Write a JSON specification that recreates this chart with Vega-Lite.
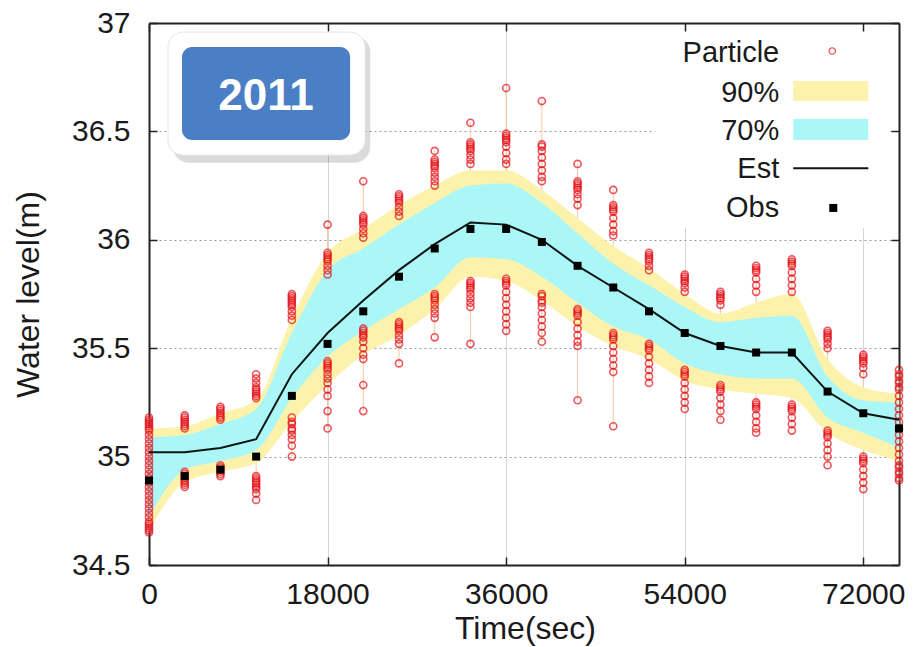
{
  "$schema": "https://vega.github.io/schema/vega-lite/v6.json",
  "width": 750,
  "height": 542,
  "autosize": {"type": "none"},
  "padding": {"left": 149, "top": 23, "right": 16, "bottom": 82},
  "background": "white",
  "config": {
    "view": {"stroke": null},
    "font": "Liberation Sans",
    "axis": {
      "domainColor": "#222",
      "domainWidth": 2,
      "tickColor": "#222",
      "tickWidth": 1.5,
      "tickSize": -8,
      "labelColor": "#1a1a1a",
      "labelFont": "Liberation Sans",
      "labelFontSize": 30,
      "titleFont": "Liberation Sans",
      "titleFontSize": 32,
      "titleFontWeight": "normal",
      "titleColor": "#1a1a1a"
    }
  },
  "datasets": {
    "one": [{}],
    "series": [
      {"t": 0, "est": 35.02, "obs": 34.89, "lo90": 34.66, "lo70": 34.72, "hi70": 35.09, "hi90": 35.13},
      {"t": 3600, "est": 35.02, "obs": 34.91, "lo90": 34.88, "lo70": 34.94, "hi70": 35.10, "hi90": 35.14},
      {"t": 7200, "est": 35.04, "obs": 34.94, "lo90": 34.93, "lo70": 34.98, "hi70": 35.15, "hi90": 35.20},
      {"t": 10800, "est": 35.08, "obs": 35.00, "lo90": 34.97, "lo70": 35.03, "hi70": 35.22, "hi90": 35.26},
      {"t": 14400, "est": 35.38, "obs": 35.28, "lo90": 35.16, "lo70": 35.27, "hi70": 35.57, "hi90": 35.64},
      {"t": 18000, "est": 35.57, "obs": 35.52, "lo90": 35.33, "lo70": 35.46, "hi70": 35.86, "hi90": 35.94},
      {"t": 21600, "est": 35.72, "obs": 35.67, "lo90": 35.47, "lo70": 35.58, "hi70": 35.96, "hi90": 36.05},
      {"t": 25200, "est": 35.86, "obs": 35.83, "lo90": 35.56, "lo70": 35.68, "hi70": 36.07, "hi90": 36.16},
      {"t": 28800, "est": 35.98, "obs": 35.96, "lo90": 35.68, "lo70": 35.78, "hi70": 36.17, "hi90": 36.25},
      {"t": 32400, "est": 36.08, "obs": 36.05, "lo90": 35.83, "lo70": 35.92, "hi70": 36.25, "hi90": 36.32},
      {"t": 36000, "est": 36.07, "obs": 36.05, "lo90": 35.81, "lo70": 35.91, "hi70": 36.26, "hi90": 36.32},
      {"t": 39600, "est": 36.00, "obs": 35.99, "lo90": 35.72, "lo70": 35.83, "hi70": 36.17, "hi90": 36.23},
      {"t": 43200, "est": 35.88, "obs": 35.88, "lo90": 35.60, "lo70": 35.71, "hi70": 36.03, "hi90": 36.10},
      {"t": 46800, "est": 35.78, "obs": 35.78, "lo90": 35.51, "lo70": 35.60, "hi70": 35.89, "hi90": 35.97},
      {"t": 50400, "est": 35.68, "obs": 35.67, "lo90": 35.45, "lo70": 35.54, "hi70": 35.79, "hi90": 35.87},
      {"t": 54000, "est": 35.57, "obs": 35.57, "lo90": 35.35, "lo70": 35.43, "hi70": 35.69, "hi90": 35.75},
      {"t": 57600, "est": 35.51, "obs": 35.51, "lo90": 35.31, "lo70": 35.38, "hi70": 35.62, "hi90": 35.66},
      {"t": 61200, "est": 35.48, "obs": 35.48, "lo90": 35.29, "lo70": 35.36, "hi70": 35.64, "hi90": 35.71},
      {"t": 64800, "est": 35.48, "obs": 35.48, "lo90": 35.27, "lo70": 35.36, "hi70": 35.65, "hi90": 35.75},
      {"t": 68400, "est": 35.30, "obs": 35.30, "lo90": 35.11, "lo70": 35.18, "hi70": 35.37, "hi90": 35.45},
      {"t": 72000, "est": 35.20, "obs": 35.20, "lo90": 35.03, "lo70": 35.11, "hi70": 35.26, "hi90": 35.32},
      {"t": 75600, "est": 35.17, "obs": 35.13, "lo90": 34.98, "lo70": 35.04, "hi70": 35.25, "hi90": 35.29}
    ],
    "particles": [
      {"t":0,"v":35.18},{"t":0,"v":35.17},{"t":0,"v":35.16},{"t":0,"v":35.15},{"t":0,"v":35.14},{"t":0,"v":35.13},{"t":0,"v":35.12},{"t":0,"v":35.10},{"t":0,"v":35.08},{"t":0,"v":35.06},{"t":0,"v":35.04},{"t":0,"v":35.02},{"t":0,"v":35.00},{"t":0,"v":34.98},{"t":0,"v":34.96},{"t":0,"v":34.94},{"t":0,"v":34.92},{"t":0,"v":34.90},{"t":0,"v":34.88},{"t":0,"v":34.86},{"t":0,"v":34.84},{"t":0,"v":34.82},{"t":0,"v":34.80},{"t":0,"v":34.78},{"t":0,"v":34.76},{"t":0,"v":34.74},{"t":0,"v":34.72},{"t":0,"v":34.70},{"t":0,"v":34.69},{"t":0,"v":34.68},{"t":0,"v":34.67},{"t":0,"v":34.66},{"t":0,"v":34.65},
      {"t":3600,"v":35.19},{"t":3600,"v":35.18},{"t":3600,"v":35.17},{"t":3600,"v":35.16},{"t":3600,"v":35.15},{"t":3600,"v":35.14},{"t":3600,"v":35.13},{"t":3600,"v":34.93},{"t":3600,"v":34.92},{"t":3600,"v":34.91},{"t":3600,"v":34.90},{"t":3600,"v":34.89},{"t":3600,"v":34.88},{"t":3600,"v":34.87},{"t":3600,"v":34.86},
      {"t":7200,"v":35.23},{"t":7200,"v":35.22},{"t":7200,"v":35.21},{"t":7200,"v":35.20},{"t":7200,"v":35.19},{"t":7200,"v":35.18},{"t":7200,"v":35.17},{"t":7200,"v":34.96},{"t":7200,"v":34.95},{"t":7200,"v":34.94},{"t":7200,"v":34.93},{"t":7200,"v":34.92},{"t":7200,"v":34.91},
      {"t":10800,"v":35.38},{"t":10800,"v":35.36},{"t":10800,"v":35.34},{"t":10800,"v":35.32},{"t":10800,"v":35.31},{"t":10800,"v":35.30},{"t":10800,"v":35.29},{"t":10800,"v":35.28},{"t":10800,"v":35.27},{"t":10800,"v":34.91},{"t":10800,"v":34.90},{"t":10800,"v":34.89},{"t":10800,"v":34.88},{"t":10800,"v":34.87},{"t":10800,"v":34.86},{"t":10800,"v":34.85},{"t":10800,"v":34.83},{"t":10800,"v":34.80},
      {"t":14400,"v":35.75},{"t":14400,"v":35.74},{"t":14400,"v":35.73},{"t":14400,"v":35.72},{"t":14400,"v":35.71},{"t":14400,"v":35.70},{"t":14400,"v":35.69},{"t":14400,"v":35.67},{"t":14400,"v":35.65},{"t":14400,"v":35.63},{"t":14400,"v":35.18},{"t":14400,"v":35.16},{"t":14400,"v":35.15},{"t":14400,"v":35.13},{"t":14400,"v":35.12},{"t":14400,"v":35.10},{"t":14400,"v":35.08},{"t":14400,"v":35.05},{"t":14400,"v":35.00},
      {"t":18000,"v":36.07},{"t":18000,"v":35.94},{"t":18000,"v":35.93},{"t":18000,"v":35.92},{"t":18000,"v":35.91},{"t":18000,"v":35.90},{"t":18000,"v":35.88},{"t":18000,"v":35.86},{"t":18000,"v":35.84},{"t":18000,"v":35.44},{"t":18000,"v":35.43},{"t":18000,"v":35.42},{"t":18000,"v":35.41},{"t":18000,"v":35.40},{"t":18000,"v":35.38},{"t":18000,"v":35.36},{"t":18000,"v":35.34},{"t":18000,"v":35.31},{"t":18000,"v":35.28},{"t":18000,"v":35.21},{"t":18000,"v":35.13},
      {"t":21600,"v":36.27},{"t":21600,"v":36.11},{"t":21600,"v":36.10},{"t":21600,"v":36.09},{"t":21600,"v":36.08},{"t":21600,"v":36.07},{"t":21600,"v":36.05},{"t":21600,"v":36.03},{"t":21600,"v":36.01},{"t":21600,"v":35.59},{"t":21600,"v":35.58},{"t":21600,"v":35.57},{"t":21600,"v":35.56},{"t":21600,"v":35.55},{"t":21600,"v":35.53},{"t":21600,"v":35.50},{"t":21600,"v":35.47},{"t":21600,"v":35.45},{"t":21600,"v":35.33},{"t":21600,"v":35.21},
      {"t":25200,"v":36.21},{"t":25200,"v":36.20},{"t":25200,"v":36.19},{"t":25200,"v":36.18},{"t":25200,"v":36.17},{"t":25200,"v":36.15},{"t":25200,"v":36.13},{"t":25200,"v":36.11},{"t":25200,"v":35.62},{"t":25200,"v":35.61},{"t":25200,"v":35.60},{"t":25200,"v":35.59},{"t":25200,"v":35.58},{"t":25200,"v":35.56},{"t":25200,"v":35.54},{"t":25200,"v":35.52},{"t":25200,"v":35.43},
      {"t":28800,"v":36.41},{"t":28800,"v":36.37},{"t":28800,"v":36.36},{"t":28800,"v":36.35},{"t":28800,"v":36.34},{"t":28800,"v":36.33},{"t":28800,"v":36.31},{"t":28800,"v":36.29},{"t":28800,"v":36.27},{"t":28800,"v":36.25},{"t":28800,"v":35.75},{"t":28800,"v":35.74},{"t":28800,"v":35.73},{"t":28800,"v":35.72},{"t":28800,"v":35.70},{"t":28800,"v":35.68},{"t":28800,"v":35.66},{"t":28800,"v":35.64},{"t":28800,"v":35.55},
      {"t":32400,"v":36.54},{"t":32400,"v":36.45},{"t":32400,"v":36.44},{"t":32400,"v":36.43},{"t":32400,"v":36.42},{"t":32400,"v":36.41},{"t":32400,"v":36.39},{"t":32400,"v":36.37},{"t":32400,"v":36.35},{"t":32400,"v":35.81},{"t":32400,"v":35.80},{"t":32400,"v":35.79},{"t":32400,"v":35.78},{"t":32400,"v":35.77},{"t":32400,"v":35.75},{"t":32400,"v":35.73},{"t":32400,"v":35.71},{"t":32400,"v":35.69},{"t":32400,"v":35.52},
      {"t":36000,"v":36.70},{"t":36000,"v":36.49},{"t":36000,"v":36.48},{"t":36000,"v":36.47},{"t":36000,"v":36.46},{"t":36000,"v":36.45},{"t":36000,"v":36.43},{"t":36000,"v":36.40},{"t":36000,"v":36.37},{"t":36000,"v":36.35},{"t":36000,"v":35.82},{"t":36000,"v":35.81},{"t":36000,"v":35.80},{"t":36000,"v":35.79},{"t":36000,"v":35.76},{"t":36000,"v":35.73},{"t":36000,"v":35.70},{"t":36000,"v":35.67},{"t":36000,"v":35.64},{"t":36000,"v":35.61},{"t":36000,"v":35.58},
      {"t":39600,"v":36.64},{"t":39600,"v":36.44},{"t":39600,"v":36.43},{"t":39600,"v":36.41},{"t":39600,"v":36.38},{"t":39600,"v":36.35},{"t":39600,"v":36.32},{"t":39600,"v":36.29},{"t":39600,"v":36.27},{"t":39600,"v":35.75},{"t":39600,"v":35.74},{"t":39600,"v":35.72},{"t":39600,"v":35.71},{"t":39600,"v":35.69},{"t":39600,"v":35.66},{"t":39600,"v":35.63},{"t":39600,"v":35.60},{"t":39600,"v":35.57},{"t":39600,"v":35.53},
      {"t":43200,"v":36.35},{"t":43200,"v":36.27},{"t":43200,"v":36.26},{"t":43200,"v":36.25},{"t":43200,"v":36.24},{"t":43200,"v":36.23},{"t":43200,"v":36.21},{"t":43200,"v":36.19},{"t":43200,"v":36.16},{"t":43200,"v":35.68},{"t":43200,"v":35.67},{"t":43200,"v":35.66},{"t":43200,"v":35.65},{"t":43200,"v":35.62},{"t":43200,"v":35.59},{"t":43200,"v":35.56},{"t":43200,"v":35.53},{"t":43200,"v":35.51},{"t":43200,"v":35.26},
      {"t":46800,"v":36.23},{"t":46800,"v":36.16},{"t":46800,"v":36.15},{"t":46800,"v":36.14},{"t":46800,"v":36.13},{"t":46800,"v":36.10},{"t":46800,"v":36.07},{"t":46800,"v":36.04},{"t":46800,"v":36.02},{"t":46800,"v":35.57},{"t":46800,"v":35.56},{"t":46800,"v":35.55},{"t":46800,"v":35.54},{"t":46800,"v":35.51},{"t":46800,"v":35.48},{"t":46800,"v":35.45},{"t":46800,"v":35.42},{"t":46800,"v":35.39},{"t":46800,"v":35.14},
      {"t":50400,"v":35.94},{"t":50400,"v":35.93},{"t":50400,"v":35.92},{"t":50400,"v":35.91},{"t":50400,"v":35.90},{"t":50400,"v":35.88},{"t":50400,"v":35.86},{"t":50400,"v":35.52},{"t":50400,"v":35.51},{"t":50400,"v":35.50},{"t":50400,"v":35.49},{"t":50400,"v":35.46},{"t":50400,"v":35.43},{"t":50400,"v":35.40},{"t":50400,"v":35.37},{"t":50400,"v":35.34},
      {"t":54000,"v":35.84},{"t":54000,"v":35.83},{"t":54000,"v":35.82},{"t":54000,"v":35.81},{"t":54000,"v":35.80},{"t":54000,"v":35.78},{"t":54000,"v":35.76},{"t":54000,"v":35.40},{"t":54000,"v":35.39},{"t":54000,"v":35.38},{"t":54000,"v":35.37},{"t":54000,"v":35.34},{"t":54000,"v":35.31},{"t":54000,"v":35.28},{"t":54000,"v":35.25},{"t":54000,"v":35.22},
      {"t":57600,"v":35.76},{"t":57600,"v":35.75},{"t":57600,"v":35.74},{"t":57600,"v":35.73},{"t":57600,"v":35.72},{"t":57600,"v":35.70},{"t":57600,"v":35.33},{"t":57600,"v":35.32},{"t":57600,"v":35.31},{"t":57600,"v":35.30},{"t":57600,"v":35.27},{"t":57600,"v":35.24},{"t":57600,"v":35.21},{"t":57600,"v":35.17},
      {"t":61200,"v":35.88},{"t":61200,"v":35.87},{"t":61200,"v":35.86},{"t":61200,"v":35.85},{"t":61200,"v":35.82},{"t":61200,"v":35.79},{"t":61200,"v":35.76},{"t":61200,"v":35.25},{"t":61200,"v":35.24},{"t":61200,"v":35.23},{"t":61200,"v":35.22},{"t":61200,"v":35.19},{"t":61200,"v":35.16},{"t":61200,"v":35.13},{"t":61200,"v":35.11},
      {"t":64800,"v":35.91},{"t":64800,"v":35.90},{"t":64800,"v":35.89},{"t":64800,"v":35.88},{"t":64800,"v":35.85},{"t":64800,"v":35.82},{"t":64800,"v":35.79},{"t":64800,"v":35.76},{"t":64800,"v":35.24},{"t":64800,"v":35.23},{"t":64800,"v":35.22},{"t":64800,"v":35.21},{"t":64800,"v":35.18},{"t":64800,"v":35.15},{"t":64800,"v":35.12},
      {"t":68400,"v":35.58},{"t":68400,"v":35.57},{"t":68400,"v":35.56},{"t":68400,"v":35.55},{"t":68400,"v":35.54},{"t":68400,"v":35.52},{"t":68400,"v":35.50},{"t":68400,"v":35.12},{"t":68400,"v":35.11},{"t":68400,"v":35.10},{"t":68400,"v":35.09},{"t":68400,"v":35.06},{"t":68400,"v":35.03},{"t":68400,"v":35.00},{"t":68400,"v":34.96},
      {"t":72000,"v":35.47},{"t":72000,"v":35.46},{"t":72000,"v":35.45},{"t":72000,"v":35.44},{"t":72000,"v":35.43},{"t":72000,"v":35.41},{"t":72000,"v":35.38},{"t":72000,"v":35.00},{"t":72000,"v":34.99},{"t":72000,"v":34.98},{"t":72000,"v":34.97},{"t":72000,"v":34.94},{"t":72000,"v":34.91},{"t":72000,"v":34.88},{"t":72000,"v":34.85},
      {"t":75600,"v":35.40},{"t":75600,"v":35.38},{"t":75600,"v":35.37},{"t":75600,"v":35.35},{"t":75600,"v":35.34},{"t":75600,"v":35.32},{"t":75600,"v":35.31},{"t":75600,"v":35.28},{"t":75600,"v":35.25},{"t":75600,"v":35.22},{"t":75600,"v":35.19},{"t":75600,"v":35.16},{"t":75600,"v":35.13},{"t":75600,"v":35.10},{"t":75600,"v":35.07},{"t":75600,"v":35.04},{"t":75600,"v":35.01},{"t":75600,"v":34.98},{"t":75600,"v":34.96},{"t":75600,"v":34.95},{"t":75600,"v":34.93},{"t":75600,"v":34.92},{"t":75600,"v":34.90},{"t":75600,"v":34.89}
    ]
  },
  "layer": [
    {
      "data": {"name": "particles"},
      "mark": {"type": "rule", "color": "#f5c9a0", "strokeWidth": 1},
      "encoding": {
        "x": {"field": "t", "type": "quantitative", "scale": {"domain": [0, 75600], "nice": false}, "axis": null},
        "y": {"aggregate": "min", "field": "v", "type": "quantitative", "scale": {"domain": [34.5, 37], "nice": false, "zero": false}, "axis": null},
        "y2": {"aggregate": "max", "field": "v"}
      }
    },
    {
      "data": {"name": "series"},
      "mark": {"type": "area", "color": "#fcf2ab", "interpolate": "monotone", "opacity": 1},
      "encoding": {
        "x": {"field": "t", "type": "quantitative", "axis": null},
        "y": {"field": "lo90", "type": "quantitative", "axis": null},
        "y2": {"field": "hi90"}
      }
    },
    {
      "data": {"name": "series"},
      "mark": {"type": "area", "color": "#abf6f7", "interpolate": "monotone", "opacity": 1},
      "encoding": {
        "x": {"field": "t", "type": "quantitative", "axis": null},
        "y": {"field": "lo70", "type": "quantitative", "axis": null},
        "y2": {"field": "hi70"}
      }
    },
    {
      "data": {"name": "particles"},
      "mark": {"type": "point", "shape": "circle", "filled": false, "color": "#e60f18", "size": 50, "strokeWidth": 1.6, "clip": false},
      "encoding": {
        "x": {
          "field": "t", "type": "quantitative",
          "axis": {
            "orient": "bottom", "values": [0, 18000, 36000, 54000, 72000], "format": "d",
            "grid": true, "gridColor": "#d6d6d6", "gridWidth": 1,
            "labelPadding": 22, "labelFlush": false, "labelOverlap": false,
            "title": "Time(sec)", "titleX": 376, "titleY": 73, "titleBaseline": "alphabetic", "titleAnchor": "middle"
          }
        },
        "y": {
          "field": "v", "type": "quantitative",
          "axis": {
            "orient": "left", "values": [34.5, 35, 35.5, 36, 36.5, 37], "labelExpr": "'' + datum.value",
            "grid": true, "gridColor": "#9a9a9a", "gridWidth": 1, "gridDash": [2, 3],
            "labelPadding": 27, "labelFlush": false, "labelOverlap": false,
            "title": "Water level(m)", "titleX": -111, "titleY": 271, "titleBaseline": "alphabetic", "titleAngle": -90, "titleAnchor": "middle"
          }
        }
      }
    },
    {
      "data": {"name": "series"},
      "mark": {"type": "line", "color": "#0d1414", "strokeWidth": 2},
      "encoding": {
        "x": {"field": "t", "type": "quantitative", "axis": null},
        "y": {"field": "est", "type": "quantitative", "axis": null}
      }
    },
    {
      "data": {"name": "series"},
      "mark": {"type": "point", "shape": "square", "filled": true, "color": "#000000", "size": 64, "opacity": 1, "clip": false},
      "encoding": {
        "x": {
          "field": "t", "type": "quantitative",
          "axis": {"orient": "top", "values": [0, 18000, 36000, 54000, 72000], "labels": false, "grid": false, "title": null}
        },
        "y": {
          "field": "obs", "type": "quantitative",
          "axis": {"orient": "right", "values": [34.5, 35, 35.5, 36, 36.5, 37], "labels": false, "grid": false, "title": null}
        }
      }
    },
    {
      "data": {"name": "one"},
      "mark": {"type": "rect", "color": "#000000", "opacity": 0.14, "cornerRadius": 16},
      "encoding": {
        "x": {"datum": 2400, "type": "quantitative", "axis": null},
        "x2": {"datum": 22300},
        "y": {"datum": 36.94, "type": "quantitative", "axis": null},
        "y2": {"datum": 36.355}
      }
    },
    {
      "data": {"name": "one"},
      "mark": {"type": "rect", "color": "#ffffff", "opacity": 1, "cornerRadius": 15, "stroke": "#e6e6e6", "strokeWidth": 1},
      "encoding": {
        "x": {"datum": 1916, "type": "quantitative", "axis": null},
        "x2": {"datum": 21782},
        "y": {"datum": 36.958, "type": "quantitative", "axis": null},
        "y2": {"datum": 36.391}
      }
    },
    {
      "data": {"name": "one"},
      "mark": {"type": "rect", "color": "#4a7ec5", "opacity": 1, "cornerRadius": 10},
      "encoding": {
        "x": {"datum": 3328, "type": "quantitative", "axis": null},
        "x2": {"datum": 20270},
        "y": {"datum": 36.889, "type": "quantitative", "axis": null},
        "y2": {"datum": 36.46}
      }
    },
    {
      "data": {"name": "one"},
      "mark": {"type": "text", "text": "2011", "color": "#ffffff", "fontSize": 44, "fontWeight": "bold", "font": "Liberation Sans", "align": "center", "baseline": "alphabetic"},
      "encoding": {
        "x": {"datum": 11798, "type": "quantitative", "axis": null},
        "y": {"datum": 36.6, "type": "quantitative", "axis": null}
      }
    },
    {
      "data": {"name": "one"},
      "mark": {"type": "rect", "color": "#ffffff", "opacity": 1},
      "encoding": {
        "x": {"datum": 51025, "type": "quantitative", "axis": null},
        "x2": {"datum": 74723},
        "y": {"datum": 36.958, "type": "quantitative", "axis": null},
        "y2": {"datum": 36.054}
      }
    },
    {
      "data": {"name": "one"},
      "mark": {"type": "text", "text": "Particle", "color": "#1a1a1a", "fontSize": 29, "font": "Liberation Sans", "align": "right", "baseline": "alphabetic"},
      "encoding": {
        "x": {"datum": 63529, "type": "quantitative", "axis": null},
        "y": {"datum": 36.8215, "type": "quantitative", "axis": null}
      }
    },
    {
      "data": {"name": "one"},
      "mark": {"type": "text", "text": "90%", "color": "#1a1a1a", "fontSize": 29, "font": "Liberation Sans", "align": "right", "baseline": "alphabetic"},
      "encoding": {
        "x": {"datum": 63529, "type": "quantitative", "axis": null},
        "y": {"datum": 36.637, "type": "quantitative", "axis": null}
      }
    },
    {
      "data": {"name": "one"},
      "mark": {"type": "text", "text": "70%", "color": "#1a1a1a", "fontSize": 29, "font": "Liberation Sans", "align": "right", "baseline": "alphabetic"},
      "encoding": {
        "x": {"datum": 63529, "type": "quantitative", "axis": null},
        "y": {"datum": 36.46, "type": "quantitative", "axis": null}
      }
    },
    {
      "data": {"name": "one"},
      "mark": {"type": "text", "text": "Est", "color": "#1a1a1a", "fontSize": 29, "font": "Liberation Sans", "align": "right", "baseline": "alphabetic"},
      "encoding": {
        "x": {"datum": 63529, "type": "quantitative", "axis": null},
        "y": {"datum": 36.284, "type": "quantitative", "axis": null}
      }
    },
    {
      "data": {"name": "one"},
      "mark": {"type": "text", "text": "Obs", "color": "#1a1a1a", "fontSize": 29, "font": "Liberation Sans", "align": "right", "baseline": "alphabetic"},
      "encoding": {
        "x": {"datum": 63529, "type": "quantitative", "axis": null},
        "y": {"datum": 36.107, "type": "quantitative", "axis": null}
      }
    },
    {
      "data": {"name": "one"},
      "mark": {"type": "point", "shape": "circle", "filled": false, "color": "#e60f18", "size": 40, "strokeWidth": 1.3},
      "encoding": {
        "x": {"datum": 68874, "type": "quantitative", "axis": null},
        "y": {"datum": 36.871, "type": "quantitative", "axis": null}
      }
    },
    {
      "data": {"name": "one"},
      "mark": {"type": "rect", "color": "#fcf2ab"},
      "encoding": {
        "x": {"datum": 64941, "type": "quantitative", "axis": null},
        "x2": {"datum": 72504},
        "y": {"datum": 36.732, "type": "quantitative", "axis": null},
        "y2": {"datum": 36.64}
      }
    },
    {
      "data": {"name": "one"},
      "mark": {"type": "rect", "color": "#abf6f7"},
      "encoding": {
        "x": {"datum": 64941, "type": "quantitative", "axis": null},
        "x2": {"datum": 72504},
        "y": {"datum": 36.557, "type": "quantitative", "axis": null},
        "y2": {"datum": 36.46}
      }
    },
    {
      "data": {"name": "one"},
      "mark": {"type": "rule", "color": "#0d1414", "strokeWidth": 2},
      "encoding": {
        "x": {"datum": 64941, "type": "quantitative", "axis": null},
        "x2": {"datum": 72504},
        "y": {"datum": 36.33, "type": "quantitative", "axis": null}
      }
    },
    {
      "data": {"name": "one"},
      "mark": {"type": "point", "shape": "square", "filled": true, "color": "#000000", "size": 64, "opacity": 1},
      "encoding": {
        "x": {"datum": 68975, "type": "quantitative", "axis": null},
        "y": {"datum": 36.147, "type": "quantitative", "axis": null}
      }
    }
  ],
  "resolve": {"axis": {"x": "independent", "y": "independent"}}
}
